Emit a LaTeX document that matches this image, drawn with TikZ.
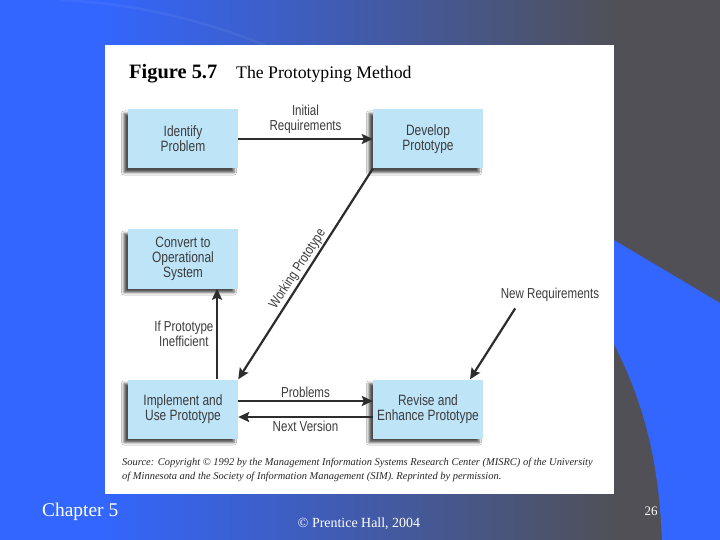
\documentclass[tikz,border=0pt]{standalone}
\usepackage{fontspec}
\setmainfont{Liberation Serif}
\newfontfamily\hv[FakeStretch=0.8]{Liberation Sans}
\usetikzlibrary{arrows.meta,shadows.blur}
\definecolor{bgblue}{RGB}{51,102,255}
\definecolor{bggray}{RGB}{80,80,86}
\definecolor{boxblue}{RGB}{190,228,248}
\definecolor{ink}{RGB}{45,45,45}
\definecolor{txt}{RGB}{60,60,60}
\tikzset{
  procbox/.style={rectangle, fill=boxblue, minimum width=110bp, minimum height=59bp,
    inner sep=0pt, align=center, text=txt, font=\hv\fontsize{15}{15}\selectfont,
    blur shadow={shadow xshift=-4bp, shadow yshift=-4bp, shadow blur radius=2.5bp, shadow opacity=70}},
  arr/.style={draw=ink, line width=2.2bp, -{Stealth[length=11bp,width=10bp,inset=2bp]}},
  lbl/.style={text=txt, font=\hv\fontsize{14.5}{14.5}\selectfont, align=center, inner sep=1.5bp},
}
\begin{document}
\begin{tikzpicture}[x=1bp,y=-1bp]
\useasboundingbox (0,0) rectangle (720,540);
% background
\fill[bgblue] (0,0) rectangle (720,540);
\shade[left color=bgblue, right color=bggray] (100,0) rectangle (620,540);
\fill[bggray] (619,0) rectangle (720,540);
\fill[bgblue] (560,208) -- (720,303) -- (720,540) -- (662,540)
  .. controls (658,445) and (638,385) .. (600,318) -- cycle;
\draw[white, opacity=0.05, line width=2.5bp] (60,0) .. controls (140,4) and (200,20) .. (265,45);
% panel
\fill[white] (105,45) rectangle (614,494);
% title
\node[anchor=base west, inner sep=0pt, font=\bfseries\fontsize{20.5}{21}\selectfont] (fig) at (129,79) {Figure 5.7};
\node[anchor=base west, inner sep=0pt, font=\fontsize{17.8}{18}\selectfont] (title) at (236,79) {The Prototyping Method};
% boxes
\node[procbox] (ident) at (183,139) {Identify\\Problem};
\node[procbox] (dev) at (428,139) {Develop\\Prototype};
\node[procbox] (conv) at (183,259) {Convert to\\Operational\\System};
\node[procbox] (impl) at (183,409) {Implement and\\Use Prototype};
\node[procbox] (rev) at (428,409) {Revise and\\Enhance Prototype};
% connectors
\draw[arr] (ident.east) -- node[lbl, above=3bp] {Initial\\Requirements} (dev.west);
\draw[arr] (dev.south west) -- node[lbl, midway, rotate=57, anchor=south, font=\hv\fontsize{14}{14}\selectfont] {Working Prototype} (impl.north east);
\draw[arr] ([xshift=34bp]impl.north) -- node[lbl, left=1bp] {If Prototype\\Inefficient} ([xshift=34bp]conv.south);
\node[lbl] (newreq) at (550,295) {New Requirements};
\draw[arr] ([xshift=16bp,yshift=-5bp]newreq.south west) -- ([xshift=42bp]rev.north);
\draw[arr] ([yshift=8bp]impl.east) -- node[lbl, above=1bp] {Problems} ([yshift=8bp]rev.west);
\draw[arr] ([yshift=-8bp]rev.west) -- node[lbl, below=1bp] {Next Version} ([yshift=-8bp]impl.east);
% source
\node[anchor=west, inner sep=0pt, align=left, font=\itshape\fontsize{10.5}{14}\selectfont, text=black!85] (src) at (122,470)
  {Source: Copyright \textcopyright\ 1992 by the Management Information Systems Research Center (MISRC) of the University\\
   of Minnesota and the Society of Information Management (SIM). Reprinted by permission.};
% footer
\node[anchor=base west, inner sep=0pt, text=white, font=\fontsize{19.5}{20}\selectfont] (chap) at (42,516) {Chapter 5};
\node[anchor=base, inner sep=0pt, text=white, font=\fontsize{14}{15}\selectfont] (copy) at (359,527) {\textcopyright\ Prentice Hall, 2004};
\node[anchor=base, inner sep=0pt, text=white, font=\fontsize{13}{14}\selectfont] (page) at (651,515) {26};
\end{tikzpicture}
\end{document}
